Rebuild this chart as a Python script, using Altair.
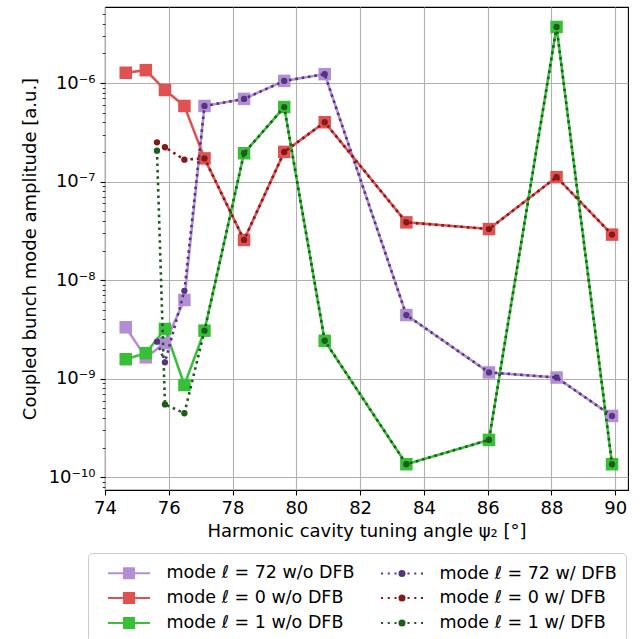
import altair as alt
import pandas as pd

# ---------------- data ----------------
x_wo = [74.65, 75.28, 75.88, 76.49, 77.12, 78.36, 79.62, 80.89, 83.45, 86.04, 88.16, 89.90]
amp72_wo = [3.33e-9, 1.65e-9, 2.3e-9, 6.3e-9, 5.85e-7, 6.9e-7, 1.05e-6, 1.23e-6, 4.43e-9, 1.16e-9, 1.03e-9, 4.2e-10]
amp0_wo = [1.27e-6, 1.35e-6, 8.5e-7, 5.85e-7, 1.72e-7, 2.56e-8, 2.0e-7, 4.0e-7, 3.86e-8, 3.3e-8, 1.11e-7, 2.9e-8]
amp1_wo = [1.58e-9, 1.82e-9, 3.2e-9, 8.65e-10, 3.08e-9, 1.94e-7, 5.7e-7, 2.43e-9, 1.36e-10, 2.4e-10, 3.7e-6, 1.36e-10]

x_w = [75.63, 75.88, 76.49, 77.12, 78.36, 79.62, 80.89, 83.45, 86.04, 88.16, 89.90]
amp72_w = [2.38e-9, 1.47e-9, 7.8e-9, 5.85e-7, 6.9e-7, 1.05e-6, 1.23e-6, 4.43e-9, 1.16e-9, 1.03e-9, 4.2e-10]
amp0_w = [2.5e-7, 2.23e-7, 1.67e-7, 1.72e-7, 2.56e-8, 2.0e-7, 4.0e-7, 3.86e-8, 3.3e-8, 1.11e-7, 2.9e-8]
amp1_w = [2.06e-7, 5.5e-10, 4.47e-10, 3.08e-9, 1.94e-7, 5.7e-7, 2.43e-9, 1.36e-10, 2.4e-10, 3.7e-6, 1.36e-10]

S72_WO = "mode ℓ = 72 w/o DFB"
S0_WO = "mode ℓ = 0 w/o DFB"
S1_WO = "mode ℓ = 1 w/o DFB"
S72_W = "mode ℓ = 72 w/ DFB"
S0_W = "mode ℓ = 0 w/ DFB"
S1_W = "mode ℓ = 1 w/ DFB"

x_ticks = [74, 76, 78, 80, 82, 84, 86, 88, 90]

# ---------------- table ----------------
rows = []
for name, xs, ys in [(S72_WO, x_wo, amp72_wo), (S0_WO, x_wo, amp0_wo), (S1_WO, x_wo, amp1_wo),
                     (S72_W, x_w, amp72_w), (S0_W, x_w, amp0_w), (S1_W, x_w, amp1_w)]:
    for a, b in zip(xs, ys):
        rows.append({"x": a, "amp": b, "series": name, "dfb": "w/o" if "w/o" in name else "w/"})
df = pd.DataFrame(rows)

order = [S72_WO, S72_W, S0_WO, S0_W, S1_WO, S1_W]
colors = ["#b28fd5", "#55357f", "#e05252", "#851818", "#37c037", "#1d5c1d"]

# y tick values: decades (labelled) plus minor ticks
y_vals = []
for e in range(-11, -5):
    for m in range(1, 10):
        v = m * 10.0 ** e
        if 7.45e-11 <= v <= 5.9e-6:
            y_vals.append(v)

MAJOR = "abs(log(datum.value)/LN10 - round(log(datum.value)/LN10)) < 0.01"
FONT = "DejaVu Sans"

# legend symbols: path coords scaled by sqrt(size)/2 = 10.5 px
PATH_WO = "M-2,0H2M-0.48,-0.48H0.48V0.48H-0.48Z"
dots = "".join(f"M{p:.3f},-0.002h0.004v0.004h-0.004Z" for p in [-1.9, -1.26, -0.62, 0.62, 1.26, 1.9])
PATH_W = dots + "M0.24,0A0.24,0.24 0 1,1 -0.24,0A0.24,0.24 0 1,1 0.24,0Z"

legend = alt.Legend(
    title=None,
    orient="none",
    legendX=-17,
    legendY=546,
    columns=2,
    direction="horizontal",
    labelFont=FONT,
    labelFontSize=17.5,
    labelColor="black",
    labelLimit=400,
    labelOffset=26,
    symbolOffset=21,
    symbolType=alt.ExprRef(expr=f"indexof(datum.value, 'w/o') >= 0 ? '{PATH_WO}' : '{PATH_W}'"),
    symbolSize=441,
    symbolStrokeWidth=2,
    symbolOpacity=1,
    symbolFillColor=alt.ExprRef(expr="scale('color', datum.value)"),
    symbolStrokeColor=alt.ExprRef(expr="scale('color', datum.value)"),
    columnPadding=14,
    rowPadding=4,
    padding=8.5,
    strokeColor="#cccccc",
    fillColor="white",
    cornerRadius=4,
)

base = alt.Chart(df).encode(
    x=alt.X(
        "x:Q",
        scale=alt.Scale(domain=[74, 90.4], nice=False, zero=False),
        axis=alt.Axis(
            values=x_ticks,
            format="d",
            title="Harmonic cavity tuning angle ψ₂ [°]",
            titleFont=FONT,
            titleFontSize=18,
            titleFontWeight="normal",
            titleColor="black",
            titleY=46,
            titleBaseline="alphabetic",
            labelFont=FONT,
            labelFontSize=18,
            labelColor="black",
            labelPadding=4,
            labelFlush=False,
            tickSize=5,
            tickWidth=1.1,
            tickColor="black",
            domain=False,
            grid=True,
            gridColor="#b0b0b0",
            gridWidth=1.1,
        ),
    ),
    y=alt.Y(
        "amp:Q",
        scale=alt.Scale(type="log", domain=[7.45e-11, 5.9e-6], nice=False),
        axis=alt.Axis(
            values=y_vals,
            labelExpr=f"{MAJOR} ? '10' + ['⁻¹⁰','⁻⁹','⁻⁸','⁻⁷','⁻⁶'][round(log(datum.value)/LN10) + 10] : ''",
            title="Coupled bunch mode amplitude [a.u.]",
            titleFont=FONT,
            titleFontSize=18,
            titleFontWeight="normal",
            titleColor="black",
            titleX=-70,
            titleY=241.5,
            titleAngle=-90,
            titleAlign="center",
            titleBaseline="alphabetic",
            labelFont=FONT,
            labelFontSize=18,
            labelColor="black",
            labelPadding=5,
            labelFlush=False,
            labelOverlap=False,
            tickSize={"condition": {"test": MAJOR, "value": 5}, "value": 2.8},
            tickWidth={"condition": {"test": MAJOR, "value": 1.1}, "value": 0.8},
            tickColor="black",
            domain=False,
            grid=True,
            gridColor="#b0b0b0",
            gridWidth=1.1,
            gridOpacity={"condition": {"test": MAJOR, "value": 1}, "value": 0},
        ),
    ),
    color=alt.Color("series:N", scale=alt.Scale(domain=order, range=colors), legend=legend),
)

solid = base.transform_filter(alt.datum.dfb == "w/o").mark_line(strokeWidth=2.5)
squares = base.transform_filter(alt.datum.dfb == "w/o").mark_point(
    shape="square", filled=True, size=156, opacity=1
)
dotted = base.transform_filter(alt.datum.dfb == "w/").mark_line(
    strokeWidth=2.6, strokeDash=[2.6, 3.8], strokeCap="butt"
)
circles = base.transform_filter(alt.datum.dfb == "w/").mark_point(
    shape="circle", filled=True, size=40, opacity=1
)

chart = (
    alt.layer(solid, squares, dotted, circles)
    .properties(
        width=523,
        height=483,
        padding={"left": 105, "top": 7, "right": 14, "bottom": 149},
        autosize=alt.AutoSizeParams(type="none"),
        background="white",
    )
    .configure_view(stroke="black", strokeWidth=1.1)
)

chart.save("out.html", embed_options={"renderer": "svg", "actions": False})
